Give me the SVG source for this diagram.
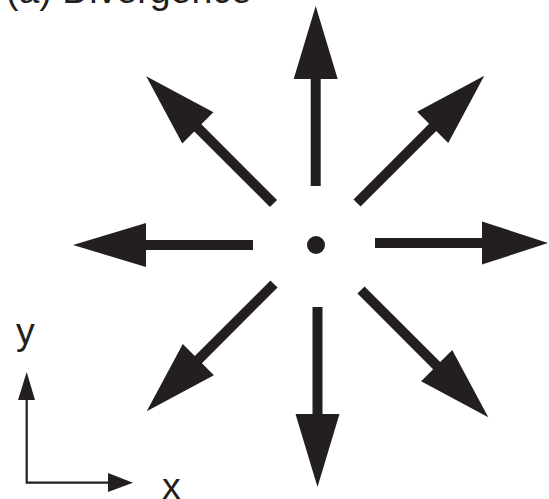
<svg xmlns="http://www.w3.org/2000/svg" width="549" height="499" viewBox="0 0 549 499">
<style>
.lbl{font-family:"Liberation Sans",Arial,sans-serif;font-size:37.5px;fill:#231f20}
.arr{fill:#231f20}
.ax{stroke:#231f20;stroke-width:2.2;fill:none}
</style>
<defs>
<path id="arrow" d="M0,-5 L107,-5 L107,-22 L180,0 L107,22 L107,5 L0,5 Z"/>
<path id="arrowR" d="M0,-5 L107,-5 L107,-21.5 L173,0 L107,21.5 L107,5 L0,5 Z"/>
</defs>
<rect width="549" height="499" fill="#fff"/>
<text id="title" class="lbl" x="6" y="3">(a) Divergence</text>
<g id="center"><circle cx="316" cy="245" r="9" fill="#231f20"/></g>
<g id="connectors" class="arr">
<use href="#arrow" transform="translate(315.7,186) rotate(-90)"/>
<use href="#arrow" transform="translate(317.5,307) rotate(90)"/>
<use href="#arrow" transform="translate(253,245) rotate(180)"/>
<use href="#arrowR" transform="translate(375,243) rotate(0)"/>
<use href="#arrow" transform="translate(273.5,203.5) rotate(-135)"/>
<use href="#arrow" transform="translate(357,203) rotate(-45)"/>
<use href="#arrow" transform="translate(361,290) rotate(45)"/>
<use href="#arrow" transform="translate(274,284) rotate(135)"/>
</g>
<g id="axes">
<path class="ax" d="M26.7,483.8 V398 M25.6,482.7 H110"/>
<polygon class="arr" points="18,400 26.7,372 35,400"/>
<polygon class="arr" points="108,473 133,482.7 108,492"/>
<text class="lbl" x="16" y="344">y</text>
<text class="lbl" x="162" y="499">x</text>
</g>
</svg>
